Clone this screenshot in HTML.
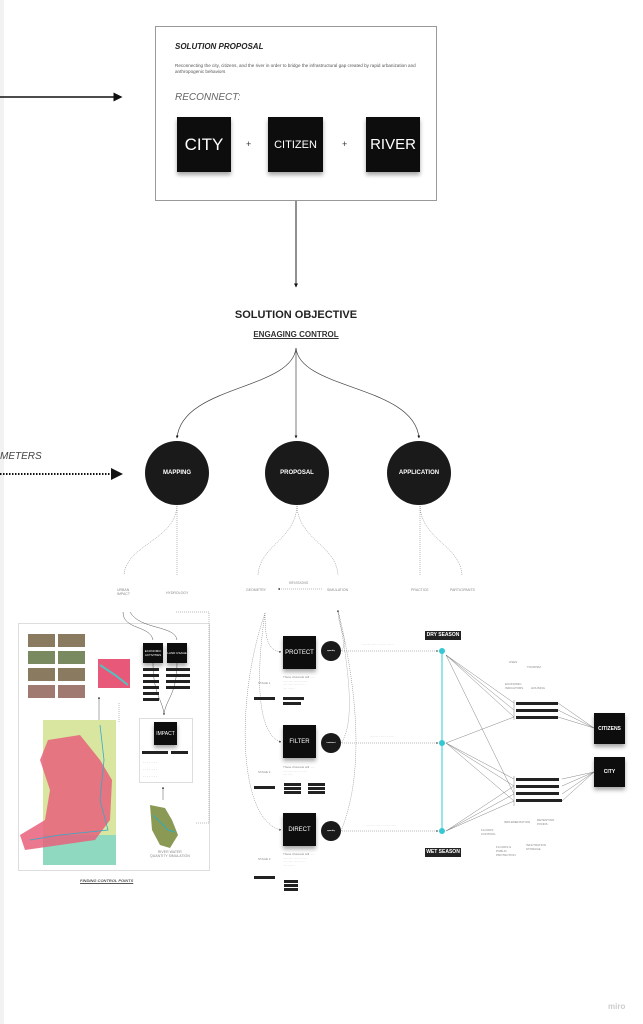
<!DOCTYPE html>
<html><head><meta charset="utf-8"><style>
html,body{margin:0;padding:0;background:#fff;}
body{width:643px;height:1024px;position:relative;overflow:hidden;font-family:"Liberation Sans",sans-serif;}
.a{position:absolute;}
.sq{position:absolute;background:#0d0d0d;color:#fff;display:flex;align-items:center;justify-content:center;box-shadow:0 3px 4px rgba(0,0,0,.35);}
.c{position:absolute;background:#1a1a1a;color:#fff;border-radius:50%;display:flex;align-items:center;justify-content:center;font-weight:bold;font-size:6px;}
.t{position:absolute;font-size:3.5px;color:#888;white-space:nowrap;}
.bl{position:absolute;background:#222;height:3px;}
</style></head><body>
<div class="a" style="left:0;top:0;width:4px;height:1024px;background:#f2f2f2"></div>
<svg class="a" style="left:0;top:0" width="643" height="1024">
<defs><marker id="ar" markerWidth="6" markerHeight="6" refX="5" refY="3" orient="auto"><path d="M0,0L6,3L0,6z" fill="#111"/></marker>
<marker id="as" markerWidth="4" markerHeight="4" refX="3.5" refY="2" orient="auto"><path d="M0,0L4,2L0,4z" fill="#111"/></marker></defs>
<line x1="0" y1="97" x2="121" y2="97" stroke="#111" stroke-width="1.5" marker-end="url(#ar)"/>
<rect x="155.5" y="26.5" width="281" height="174" fill="#fff" stroke="#999" stroke-width="1"/>
<line x1="296" y1="201" x2="296" y2="287" stroke="#222" stroke-width="1" marker-end="url(#as)"/>
<line x1="0" y1="474" x2="121" y2="474" stroke="#111" stroke-width="2" stroke-dasharray="1.5,1.5" marker-end="url(#ar)"/>
<g stroke="#444" stroke-width="0.7" fill="none">
<path d="M296,348 C292,390 182,385 177,438" marker-end="url(#as)"/>
<path d="M296,348 L296,438" marker-end="url(#as)"/>
<path d="M296,348 C300,390 414,385 419,438" marker-end="url(#as)"/>
</g>
<g stroke="#777" stroke-width="0.5" fill="none" stroke-dasharray="1,1">
<path d="M177,506 C175,540 126,545 124,575"/><path d="M177,506 L177,575"/>
<path d="M297,506 C295,540 260,545 258,575"/><path d="M297,506 C299,540 336,545 338,575"/>
<path d="M420,506 L420,575"/><path d="M420,506 C422,540 460,545 462,575"/>
<line x1="322" y1="589" x2="278" y2="589" marker-end="url(#as)"/>
<!-- proposal loops -->
<path d="M265,613 C265,640 268,650 281,652" marker-end="url(#as)"/>
<path d="M265,613 C255,680 258,735 281,742" marker-end="url(#as)"/>
<path d="M265,613 C235,700 238,820 281,830" marker-end="url(#as)"/>
<path d="M341,651 C350,640 338,630 338,610" marker-end="url(#as)"/>
<path d="M341,743 C358,720 345,650 338,610"/>
<path d="M341,831 C370,760 350,660 338,610"/>
<line x1="340" y1="651" x2="438" y2="651" marker-end="url(#as)"/>
<line x1="340" y1="743" x2="438" y2="743" marker-end="url(#as)"/>
<line x1="340" y1="831" x2="438" y2="831" marker-end="url(#as)"/>
<!-- left box -->
<rect x="18.5" y="623.5" width="191" height="247"/>
<rect x="139.5" y="718.5" width="53" height="64"/>
<path d="M176,612 L209,612 L209,823 L196,823"/>
<line x1="119" y1="703" x2="119" y2="722"/>
</g>
<g stroke="#555" stroke-width="0.5" fill="none">
<line x1="99" y1="795" x2="99" y2="697" marker-end="url(#as)"/>
<line x1="163" y1="800" x2="163" y2="787" marker-end="url(#as)"/>
<path d="M153,663 C153,695 163,700 164,715" marker-end="url(#as)"/>
<path d="M177,663 C177,695 165,700 164,715"/>
<path d="M123,612 C123,630 150,625 153,640"/>
<path d="M130,612 C140,630 175,625 177,640"/>
<rect x="81.5" y="771.5" width="21" height="22" stroke="#222" stroke-width="0.8"/>
</g>
<line x1="442" y1="651" x2="442" y2="831" stroke="#33c8d2" stroke-width="1"/>
<circle cx="442" cy="651" r="3" fill="#33c8d2"/><circle cx="442" cy="743" r="3" fill="#33c8d2"/><circle cx="442" cy="831" r="3" fill="#33c8d2"/>
<g stroke="#666" stroke-width="0.4" fill="none">
<line x1="446" y1="655" x2="514" y2="703"/><line x1="446" y1="655" x2="514" y2="710"/><line x1="446" y1="655" x2="514" y2="717"/><line x1="446" y1="655" x2="514" y2="794"/>
<line x1="446" y1="743" x2="514" y2="717"/><line x1="446" y1="743" x2="514" y2="779"/><line x1="446" y1="743" x2="514" y2="786"/><line x1="446" y1="743" x2="514" y2="801"/>
<line x1="446" y1="831" x2="514" y2="786"/><line x1="446" y1="831" x2="514" y2="794"/><line x1="446" y1="831" x2="514" y2="801"/>
<line x1="514" y1="700" x2="514" y2="720"/><line x1="514" y1="776" x2="514" y2="806"/>
<line x1="558" y1="703" x2="594" y2="728"/><line x1="558" y1="710" x2="594" y2="728"/><line x1="558" y1="717" x2="594" y2="728"/>
<line x1="562" y1="779" x2="594" y2="772"/><line x1="562" y1="786" x2="594" y2="772"/><line x1="562" y1="794" x2="594" y2="772"/><line x1="562" y1="801" x2="594" y2="772"/>
</g>
<!-- map -->
<rect x="43" y="720" width="73" height="145" fill="#d8e6a0"/>
<rect x="43" y="835" width="73" height="30" fill="#8fd9c0"/>
<path d="M48,740 L80,735 L100,760 L112,780 L110,820 L95,840 L60,845 L25,850 L20,835 L45,820 L50,790 L40,760z" fill="#e8607a" opacity=".85"/>
<path d="M100,725 L104,760 L100,800 L108,830 L60,835 L30,840" stroke="#33aacc" stroke-width="0.8" fill="none"/>
<rect x="98" y="659" width="32" height="29" fill="#e85878"/>
<path d="M100,665 L115,675 L128,685" stroke="#55c0c0" stroke-width="2" fill="none"/>
<path d="M150,805 L165,808 L172,820 L178,835 L170,848 L160,845 L152,830z" fill="#8a9a55"/>
<path d="M153,815 L168,830 L175,832" stroke="#3ab" stroke-width="1" fill="none"/>
<g fill="#8a7a60"><rect x="28" y="634" width="27" height="13"/><rect x="58" y="634" width="27" height="13"/><rect x="28" y="651" width="27" height="13" fill="#7a8a60"/><rect x="58" y="651" width="27" height="13" fill="#7a8a60"/><rect x="28" y="668" width="27" height="13"/><rect x="58" y="668" width="27" height="13"/><rect x="28" y="685" width="27" height="13" fill="#a07a70"/><rect x="58" y="685" width="27" height="13" fill="#a07a70"/></g>
</svg>

<div class="a" style="left:175px;top:42px;font-size:8px;font-weight:bold;font-style:italic;color:#222">SOLUTION PROPOSAL</div>
<div class="a" style="left:175px;top:63px;font-size:4.6px;color:#555;width:260px;line-height:6px">Reconnecting the city, citizens, and the river in order to bridge the infrastructural gap created by rapid urbanization and anthropogenic behaviors</div>
<div class="a" style="left:175px;top:92px;font-size:10px;font-style:italic;color:#666">RECONNECT:</div>
<div class="sq" style="left:177px;top:117px;width:54px;height:55px;font-size:17px">CITY</div>
<div class="a" style="left:246px;top:139px;font-size:9px;color:#333">+</div>
<div class="sq" style="left:268px;top:117px;width:55px;height:55px;font-size:11px">CITIZEN</div>
<div class="a" style="left:342px;top:139px;font-size:9px;color:#333">+</div>
<div class="sq" style="left:366px;top:117px;width:54px;height:55px;font-size:15px">RIVER</div>

<div class="a" style="left:196px;top:309px;width:200px;text-align:center;font-size:11px;font-weight:bold;color:#222">SOLUTION OBJECTIVE</div>
<div class="a" style="left:196px;top:330px;width:200px;text-align:center;font-size:8px;font-weight:bold;color:#333;text-decoration:underline">ENGAGING CONTROL</div>
<div class="a" style="left:0;top:451px;font-size:10px;font-style:italic;color:#444">METERS</div>
<div class="c" style="left:145px;top:441px;width:64px;height:64px">MAPPING</div>
<div class="c" style="left:265px;top:441px;width:64px;height:64px">PROPOSAL</div>
<div class="c" style="left:387px;top:441px;width:64px;height:64px">APPLICATION</div>

<div class="t" style="left:117px;top:588px">URBAN<br>IMPACT</div>
<div class="t" style="left:166px;top:591px">HYDROLOGY</div>
<div class="t" style="left:246px;top:588px">GEOMETRY</div>
<div class="t" style="left:289px;top:581px;font-style:italic">REVISIONS</div>
<div class="t" style="left:327px;top:588px">SIMULATION</div>
<div class="t" style="left:411px;top:588px">PRACTICE</div>
<div class="t" style="left:450px;top:588px">PARTICIPANTS</div>

<div class="sq" style="left:143px;top:643px;width:20px;height:20px;font-size:3px;text-align:center">ECONOMIC ACTIVITIES</div>
<div class="sq" style="left:167px;top:643px;width:20px;height:20px;font-size:3px;text-align:center">LAND USAGE</div>
<div class="bl" style="left:143px;top:668px;width:16px"></div><div class="bl" style="left:143px;top:674px;width:16px"></div><div class="bl" style="left:143px;top:680px;width:16px"></div><div class="bl" style="left:143px;top:686px;width:16px"></div><div class="bl" style="left:143px;top:692px;width:16px"></div><div class="bl" style="left:143px;top:698px;width:16px"></div>
<div class="bl" style="left:166px;top:668px;width:24px"></div><div class="bl" style="left:166px;top:674px;width:24px"></div><div class="bl" style="left:166px;top:680px;width:24px"></div><div class="bl" style="left:166px;top:686px;width:24px"></div>
<div class="sq" style="left:154px;top:722px;width:23px;height:23px;font-size:5px">IMPACT</div>
<div class="bl" style="left:142px;top:751px;width:26px"></div><div class="bl" style="left:171px;top:751px;width:17px"></div>
<div class="t" style="left:143px;top:760px;line-height:7px">· · · · · · ·<br>· · · · · · ·<br>· · · · · · ·</div>
<div class="t" style="left:150px;top:850px;text-align:center">RIVER WATER<br>QUANTITY SIMULATION</div>
<div class="t" style="left:80px;top:878px;font-size:4px;font-style:italic;font-weight:bold;color:#555;text-decoration:underline">FINDING CONTROL POINTS</div>

<div class="sq" style="left:283px;top:636px;width:33px;height:33px;font-size:6px">PROTECT</div>
<div class="c" style="left:321px;top:641px;width:20px;height:20px;font-size:2px">quantity</div>
<div class="sq" style="left:283px;top:725px;width:33px;height:33px;font-size:6px">FILTER</div>
<div class="c" style="left:321px;top:733px;width:20px;height:20px;font-size:2px">treatment</div>
<div class="sq" style="left:283px;top:813px;width:33px;height:33px;font-size:6px">DIRECT</div>
<div class="c" style="left:321px;top:821px;width:20px;height:20px;font-size:2px">quantity</div>
<div class="t" style="left:283px;top:676px;font-size:3px;line-height:3.5px">These channels will ......<br>............ ........ .......<br>..... ...... ...... ......<br>..... ........</div>
<div class="bl" style="left:254px;top:697px;width:21px"></div><div class="bl" style="left:283px;top:697px;width:21px"></div><div class="bl" style="left:283px;top:702px;width:18px"></div>
<div class="t" style="left:283px;top:766px;font-size:3px;line-height:3.5px">These channels will ......<br>............ ........ .......<br>..... ......</div>
<div class="bl" style="left:254px;top:786px;width:21px"></div><div class="bl" style="left:284px;top:783px;width:17px"></div><div class="bl" style="left:284px;top:787px;width:17px"></div><div class="bl" style="left:284px;top:791px;width:17px"></div><div class="bl" style="left:308px;top:783px;width:17px"></div><div class="bl" style="left:308px;top:787px;width:17px"></div><div class="bl" style="left:308px;top:791px;width:17px"></div>
<div class="t" style="left:283px;top:853px;font-size:3px;line-height:3.5px">These channels will ......<br>............ ........ .......<br>..... ...... ...... ......<br>..... ........</div>
<div class="bl" style="left:254px;top:876px;width:21px"></div><div class="bl" style="left:284px;top:880px;width:14px"></div><div class="bl" style="left:284px;top:884px;width:14px"></div><div class="bl" style="left:284px;top:888px;width:14px"></div>
<div class="t" style="left:258px;top:681px;font-size:3px">STAGE 1</div><div class="t" style="left:258px;top:770px;font-size:3px">STAGE 2</div><div class="t" style="left:258px;top:857px;font-size:3px">STAGE 3</div>
<div class="t" style="left:362px;top:642px;font-size:3px">.......... ........ ......... ........</div>
<div class="t" style="left:370px;top:734px;font-size:3px">.......... ........ .........</div>
<div class="t" style="left:366px;top:823px;font-size:3px">.......... ........ ......... ......</div>

<div class="a" style="left:425px;top:631px;width:36px;height:9px;background:#222;color:#fff;font-size:5px;font-weight:bold;text-align:center;line-height:9px">DRY SEASON</div>
<div class="a" style="left:425px;top:848px;width:36px;height:9px;background:#222;color:#fff;font-size:5px;font-weight:bold;text-align:center;line-height:9px">WET SEASON</div>
<div class="bl" style="left:516px;top:702px;width:42px"></div><div class="bl" style="left:516px;top:709px;width:42px"></div><div class="bl" style="left:516px;top:716px;width:42px"></div>
<div class="bl" style="left:516px;top:778px;width:43px"></div><div class="bl" style="left:516px;top:785px;width:43px"></div><div class="bl" style="left:516px;top:792px;width:43px"></div><div class="bl" style="left:516px;top:799px;width:46px"></div>
<div class="sq" style="left:594px;top:713px;width:31px;height:31px;font-size:5px;font-weight:bold">CITIZENS</div>
<div class="sq" style="left:594px;top:757px;width:31px;height:30px;font-size:5px;font-weight:bold">CITY</div>
<div class="t" style="left:509px;top:660px;font-size:3px">USES</div><div class="t" style="left:527px;top:665px;font-size:3px">TOURISM</div>
<div class="t" style="left:505px;top:682px;font-size:3px">ECONOMIC<br>INDICATORS</div><div class="t" style="left:531px;top:686px;font-size:3px">HOUSING</div>
<div class="t" style="left:504px;top:820px;font-size:3px">IMPLEMENTATION</div><div class="t" style="left:537px;top:818px;font-size:3px">DETENTION<br>PONDS</div>
<div class="t" style="left:481px;top:828px;font-size:3px">FLOODS<br>CONTROL</div>
<div class="t" style="left:496px;top:845px;font-size:3px">FLOODS &amp;<br>PUBLIC<br>PROTECTION</div><div class="t" style="left:526px;top:843px;font-size:3px">INFILTRATION<br>STORAGE</div>
<div class="a" style="left:608px;top:1002px;font-size:8px;font-weight:bold;color:#ccc">miro</div>
</body></html>
